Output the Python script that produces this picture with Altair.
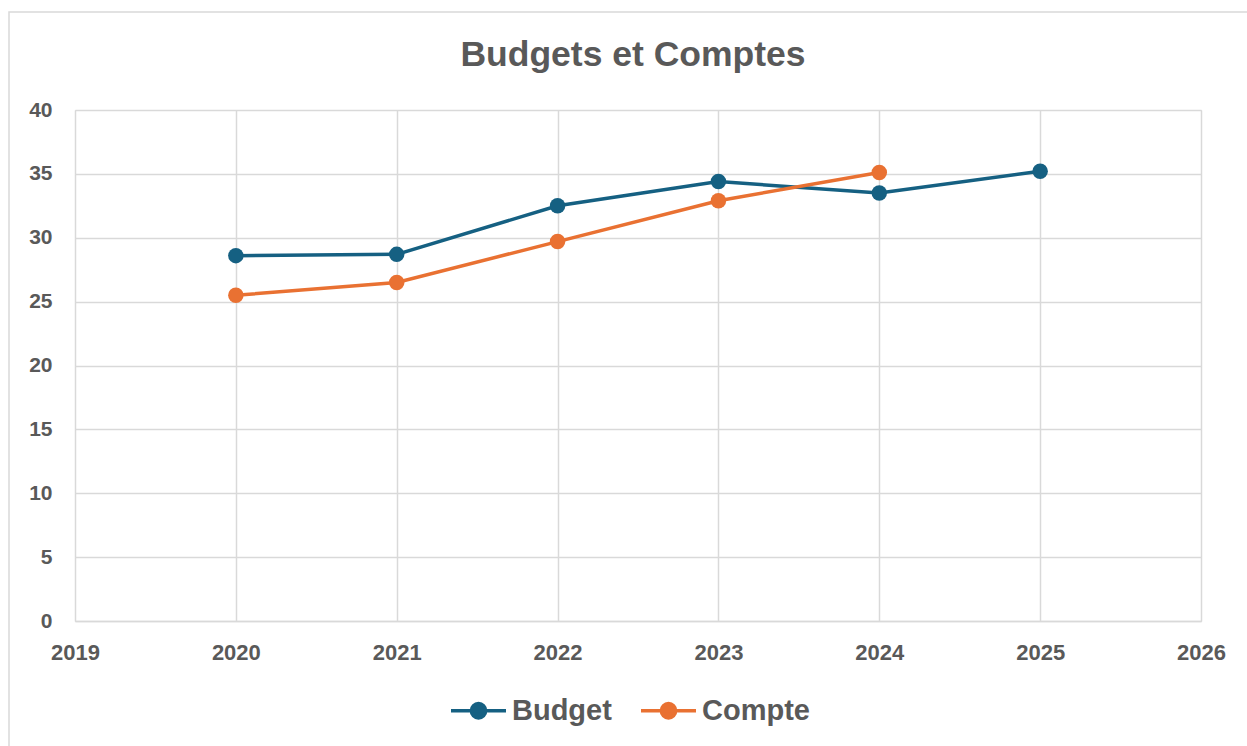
import altair as alt
import pandas as pd

years = [2020, 2021, 2022, 2023, 2024, 2025]
budget = [28.6, 28.7, 32.5, 34.4, 33.5, 35.2]
compte = [25.5, 26.5, 29.7, 32.9, 35.1, None]
series_names = ["Budget", "Compte"]
colors = ["#156082", "#E97132"]
title_text = ["Budgets et Comptes"]

rows = []
for y, b, c in zip(years, budget, compte):
    rows.append({"Année": y, "Série": "Budget", "Valeur": b})
    if c is not None:
        rows.append({"Année": y, "Série": "Compte", "Valeur": c})
df = pd.DataFrame(rows)

FONT = "Liberation Sans"
TXT = "#595959"
GRID = "#d9d9d9"

color = alt.Color(
    "Série:N",
    scale=alt.Scale(domain=series_names, range=colors),
    legend=alt.Legend(
        title=None,
        orient="none",
        direction="horizontal",
        legendX=374,
        legendY=571,
        symbolType="M-1,0H1M-0.26,0A0.26,0.26 0 1,1 0.26,0A0.26,0.26 0 1,1 -0.26,0Z",
        symbolSize=3025,
        symbolStrokeWidth=3.5,
        labelFont=FONT,
        labelFontSize=29,
        labelFontWeight="bold",
        labelColor=TXT,
        columnPadding=22,
        labelOffset=4,
    ),
)

x = alt.X(
    "Année:Q",
    scale=alt.Scale(domain=[2019, 2026], nice=False, zero=False),
    axis=alt.Axis(
        values=list(range(2019, 2027)),
        format="d",
        title=None,
        ticks=False,
        domainColor=GRID,
        domainWidth=1.5,
        gridColor=GRID,
        gridWidth=1.5,
        labelFont=FONT,
        labelFontSize=22,
        labelFontWeight="bold",
        labelColor=TXT,
        labelPadding=21,
        labelFlush=False,
        labelOverlap=False,
    ),
)
y = alt.Y(
    "Valeur:Q",
    scale=alt.Scale(domain=[0, 40], nice=False),
    axis=alt.Axis(
        values=list(range(0, 41, 5)),
        title=None,
        ticks=False,
        domain=False,
        gridColor=GRID,
        gridWidth=1.5,
        labelFont=FONT,
        labelFontSize=21,
        labelFontWeight="bold",
        labelColor=TXT,
        labelPadding=23,
        labelFlush=False,
    ),
)

base = alt.Chart(df)
lines = base.mark_line(strokeWidth=3.5).encode(x=x, y=y, color=color, detail="Série:N")
points = base.mark_point(filled=True, size=240, opacity=1).encode(x=x, y=y, color=color)

frame = alt.Chart(pd.DataFrame({"a": [0]})).mark_rect(
    fill=None, stroke=GRID, strokeWidth=1.5
).encode(
    x=alt.value(-66), x2=alt.value(1180), y=alt.value(-98), y2=alt.value(650)
)

title = alt.Chart(pd.DataFrame({"t": title_text})).mark_text(
    font=FONT, fontSize=35.5, fontWeight="bold", color=TXT,
    align="center", baseline="alphabetic",
).encode(text="t:N", x=alt.value(558), y=alt.value(-44))

chart = alt.layer(frame, title, lines, points).properties(
    width=1126,
    height=511,
    autosize=alt.AutoSizeParams(type="none"),
    padding={"left": 75, "top": 110, "right": 46, "bottom": 125},
).configure_view(stroke=None).configure(background="white")

chart.save("out.html", embed_options={"renderer": "svg", "actions": False})
